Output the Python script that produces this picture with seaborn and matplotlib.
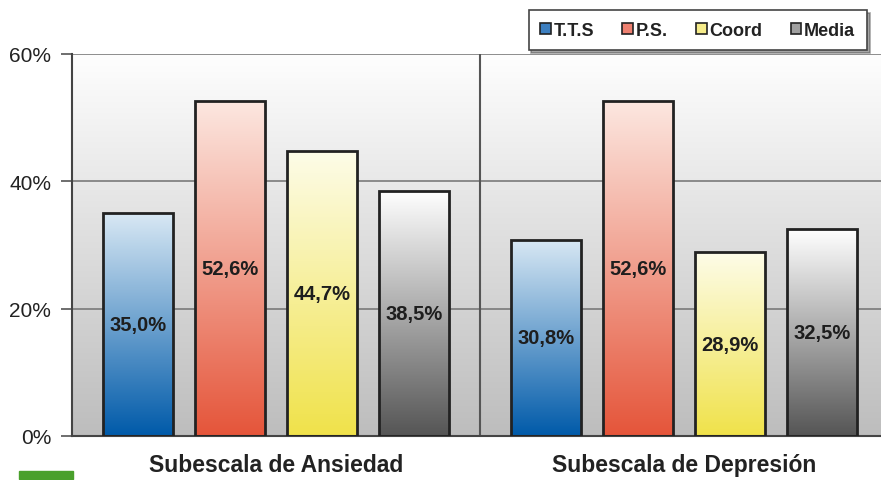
import numpy as np
import pandas as pd
import matplotlib
matplotlib.use('Agg')
import matplotlib.pyplot as plt
import seaborn as sns
from matplotlib.colors import LinearSegmentedColormap
from matplotlib.patches import Patch, Rectangle

# data
subescalas = ['Subescala de Ansiedad', 'Subescala de Depresión']
grupos = ['T.T.S', 'P.S.', 'Coord', 'Media']
tts = [35.0, 30.8]
ps = [52.6, 52.6]
coord = [44.7, 28.9]
media = [38.5, 32.5]

# gradient colours per group (top of bar, bottom of bar)
top_col = ['#d8e8f4', '#fce7e0', '#fdfce8', '#ffffff']
bot_col = ['#005aa9', '#e5553a', '#f0e24a', '#555555']
mid_col = ['#3d7fc0', '#ee8070', '#f6ec8a', '#a0a0a0']

df = pd.DataFrame({
    'subescala': np.repeat(subescalas, 4),
    'grupo': grupos * 2,
    'valor': [tts[0], ps[0], coord[0], media[0], tts[1], ps[1], coord[1], media[1]],
})

sns.set_style('white')
plt.rcParams['font.family'] = ['Liberation Sans', 'DejaVu Sans']

fig = plt.figure(figsize=(8.81, 4.81), dpi=100)
ax = fig.add_axes([72 / 881, 44 / 481, 816 / 881, 382 / 481])

sns.barplot(data=df, x='subescala', y='valor', hue='grupo', hue_order=grupos,
            width=0.9, gap=0.235, ax=ax, legend=False, errorbar=None,
            facecolor='none', edgecolor='#222222', linewidth=2, zorder=3)

ax.set_xlim(-0.5, 1.5)
ax.set_ylim(0, 60)

# background gradient of the plot area
bg = np.linspace(0, 1, 256).reshape(-1, 1)
bg_cmap = LinearSegmentedColormap.from_list('bg', ['#fefefe', '#bdbdbd'])
ax.imshow(bg, extent=[0, 1, 0, 1], transform=ax.transAxes, cmap=bg_cmap,
          aspect='auto', zorder=0)

# gradient fill inside each bar
grad = np.linspace(0, 1, 256).reshape(-1, 1)
for i, cont in enumerate(ax.containers):
    cmap = LinearSegmentedColormap.from_list('g%d' % i, [top_col[i], bot_col[i]])
    for bar in cont:
        x, w, h = bar.get_x(), bar.get_width(), bar.get_height()
        im = ax.imshow(grad, extent=[x, x + w, 0, h], cmap=cmap, aspect='auto',
                       origin='upper', zorder=2.5)
        im.set_clip_path(bar)
        ax.text(x + w / 2, h / 2, f'{h:.1f}%'.replace('.', ','), ha='center',
                va='center', fontsize=14.5, fontweight='bold', color='#1e1e1e',
                zorder=4)

ax.set_xlim(-0.5, 1.5)
ax.set_ylim(0, 60)

# grid and frame
ax.set_yticks([0, 20, 40, 60])
ax.set_yticklabels(['0%', '20%', '40%', '60%'], fontsize=15, color='#222222')
for yv in [20, 40, 60]:
    ax.axhline(yv, color='#7a7a7a', lw=1.2, zorder=1)
ax.axvline(0.5, color='#555555', lw=1.5, zorder=1)
ax.tick_params(axis='y', length=8, width=1.2, color='#555555', left=True, pad=7)
ax.set_xticks([0, 1])
ax.set_xticklabels(subescalas, fontsize=16.5, fontweight='bold', color='#222222')
ax.tick_params(axis='x', length=0, pad=12)
ax.set_xlabel('')
ax.set_ylabel('')
for s in ['top', 'right']:
    ax.spines[s].set_visible(False)
ax.spines['left'].set_color('#444444')
ax.spines['left'].set_linewidth(1.5)
ax.spines['bottom'].set_color('#444444')
ax.spines['bottom'].set_linewidth(1.5)

# legend
handles = [Patch(facecolor=mid_col[i], edgecolor='#222222', linewidth=1.2)
           for i in range(4)]
leg = fig.legend(handles, grupos, loc='upper right', ncol=4,
                 bbox_to_anchor=(867 / 881, 1 - 11 / 481), frameon=True,
                 fancybox=False, shadow=True, edgecolor='#444444',
                 handlelength=0.6, handleheight=0.6, handletextpad=0.15,
                 columnspacing=1.55, borderpad=0.65, borderaxespad=0,
                 prop={'size': 13, 'weight': 'bold'})
leg.get_frame().set_linewidth(1.2)
for t in leg.get_texts():
    t.set_color('#222222')

# little green mark bottom left
fig.patches.append(Rectangle((19 / 881, 1 / 481), 54 / 881, 8 / 481,
                             transform=fig.transFigure, color='#4aa02c'))

fig.savefig('out.png', dpi=100)
